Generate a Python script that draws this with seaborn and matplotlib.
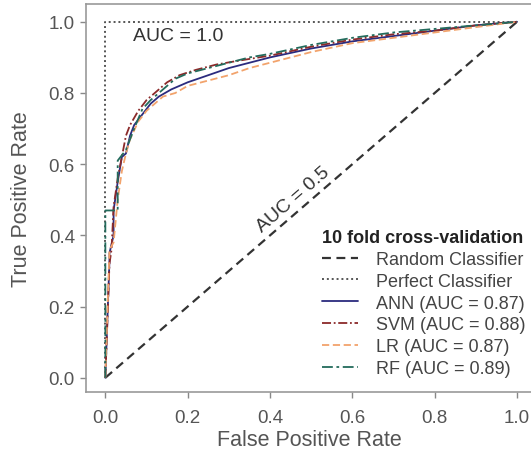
import matplotlib
matplotlib.use("Agg")
import matplotlib.pyplot as plt
import seaborn as sns
import pandas as pd

sns.set_theme(style="white")
plt.rcParams['font.family'] = ['Liberation Sans', 'DejaVu Sans']

# ---- data ----
ann_fpr = [0, 0.01, 0.01, 0.02, 0.02, 0.03, 0.04, 0.05, 0.06, 0.07, 0.09, 0.11, 0.13, 0.16, 0.2, 0.25, 0.3, 0.35, 0.4, 0.5, 0.6, 0.7, 0.8, 0.9, 1.0]
ann_tpr = [0, 0.33, 0.35, 0.40, 0.47, 0.55, 0.62, 0.63, 0.68, 0.71, 0.74, 0.77, 0.79, 0.81, 0.83, 0.85, 0.87, 0.885, 0.9, 0.925, 0.945, 0.96, 0.975, 0.99, 1.0]

svm_fpr = [0, 0.01, 0.015, 0.02, 0.03, 0.04, 0.05, 0.06, 0.08, 0.1, 0.12, 0.15, 0.18, 0.22, 0.27, 0.32, 0.4, 0.5, 0.6, 0.7, 0.8, 0.9, 1.0]
svm_tpr = [0, 0.32, 0.36, 0.48, 0.56, 0.62, 0.68, 0.71, 0.75, 0.78, 0.8, 0.83, 0.85, 0.865, 0.88, 0.89, 0.905, 0.93, 0.95, 0.965, 0.975, 0.99, 1.0]

lr_fpr = [0, 0.01, 0.02, 0.03, 0.04, 0.05, 0.06, 0.08, 0.1, 0.12, 0.14, 0.17, 0.2, 0.25, 0.3, 0.35, 0.4, 0.5, 0.6, 0.7, 0.8, 0.9, 1.0]
lr_tpr = [0, 0.36, 0.38, 0.5, 0.58, 0.63, 0.67, 0.72, 0.75, 0.77, 0.79, 0.8, 0.82, 0.835, 0.85, 0.87, 0.885, 0.915, 0.94, 0.955, 0.97, 0.985, 1.0]

rf_fpr = [0, 0.0, 0.01, 0.03, 0.03, 0.05, 0.07, 0.09, 0.11, 0.14, 0.17, 0.2, 0.25, 0.3, 0.35, 0.4, 0.5, 0.6, 0.7, 0.8, 0.9, 1.0]
rf_tpr = [0, 0.47, 0.47, 0.47, 0.61, 0.64, 0.7, 0.755, 0.78, 0.81, 0.84, 0.855, 0.87, 0.885, 0.9, 0.91, 0.935, 0.955, 0.97, 0.98, 0.99, 1.0]

model_names = ["ANN", "SVM", "LR", "RF"]
model_auc = [0.87, 0.88, 0.87, 0.89]

random_x = [0, 1]
random_y = [0, 1]
perfect_x = [0, 0, 1]
perfect_y = [0, 1, 1]

xticks = [0.0, 0.2, 0.4, 0.6, 0.8, 1.0]
yticks = [0.0, 0.2, 0.4, 0.6, 0.8, 1.0]

curves = {
    "ANN": (ann_fpr, ann_tpr),
    "SVM": (svm_fpr, svm_tpr),
    "LR": (lr_fpr, lr_tpr),
    "RF": (rf_fpr, rf_tpr),
}
styles = {
    "ANN": dict(color="#2b2b7e", ls="-", lw=1.3),
    "SVM": dict(color="#8b2a2a", ls=(0, (5, 1.5, 1, 1.5)), lw=1.3),
    "LR": dict(color="#f2a36c", ls=(0, (4, 2)), lw=1.3),
    "RF": dict(color="#236b5c", ls=(0, (6, 2, 1.5, 2)), lw=1.3),
}

fig = plt.figure(figsize=(5.31, 4.52), dpi=100)
ax = fig.add_axes([86 / 531, 59 / 452, 447.5 / 531, 388 / 452])

sns.lineplot(x=random_x, y=random_y, ax=ax, color="#333333", ls=(0, (4, 2.5)), lw=1.6,
             label="Random Classifier", sort=False, estimator=None)
sns.lineplot(x=perfect_x, y=perfect_y, ax=ax, color="#555555", ls=(0, (1, 1.5)), lw=1.4,
             label="Perfect Classifier", sort=False, estimator=None)
for name, auc in zip(model_names, model_auc):
    fx, ty = curves[name]
    df = pd.DataFrame({"fpr": fx, "tpr": ty})
    sns.lineplot(data=df, x="fpr", y="tpr", ax=ax, sort=False, estimator=None,
                 label=f"{name} (AUC = {auc:.2f})", **styles[name])

ax.set_xlim(-0.047, 1.04)
ax.set_ylim(-0.04, 1.05)
ax.set_xticks(xticks)
ax.set_yticks(yticks)
ax.set_xticklabels([f"{t:.1f}" for t in xticks])
ax.set_yticklabels([f"{t:.1f}" for t in yticks])
ax.tick_params(axis="both", which="both", direction="out", length=4, width=1,
               color="#888888", labelcolor="#555555", labelsize=13.5, bottom=True, left=True)
ax.tick_params(axis="x", pad=8)
ax.tick_params(axis="y", pad=4)
for s in ax.spines.values():
    s.set_color("#999999")
    s.set_linewidth(1.2)

ax.set_xlabel("False Positive Rate", fontsize=15.5, color="#555555", labelpad=2.5)
ax.set_ylabel("True Positive Rate", fontsize=15.5, color="#555555", labelpad=12)

ax.text(0.067, 0.962, "AUC = 1.0", fontsize=14, color="#333333", ha="left", va="center")
ax.text(0.456, 0.503, "AUC = 0.5", fontsize=14, color="#333333", ha="center", va="center",
        rotation=40.9, rotation_mode="anchor")

leg = ax.legend(loc="upper left", bbox_to_anchor=(0.526, 0.418), bbox_transform=ax.transData,
                frameon=False, fontsize=13, title="10 fold cross-validation",
                title_fontproperties={"weight": "bold", "size": 13},
                handlelength=2.0, handletextpad=1.0, labelspacing=0.27,
                borderpad=0, borderaxespad=0, alignment="left")
for t in leg.get_texts():
    t.set_color("#444444")
leg.get_title().set_color("#222222")

fig.savefig("out.png", dpi=100)
